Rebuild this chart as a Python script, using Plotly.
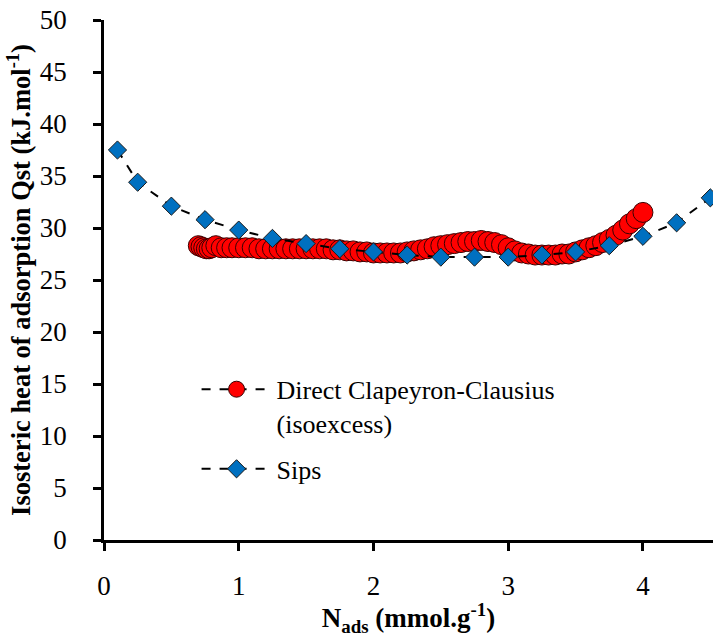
import plotly.graph_objects as go

# Direct Clapeyron-Clausius (isoexcess)
cc_x = [0.70, 0.72, 0.74, 0.76, 0.78, 0.80, 0.83, 0.87, 0.91, 0.95, 1.00, 1.05, 1.10, 1.15, 1.20,
        1.25, 1.30, 1.35, 1.40, 1.45, 1.50, 1.55, 1.60, 1.65, 1.70, 1.75, 1.80, 1.85, 1.90, 1.95,
        2.00, 2.05, 2.10, 2.15, 2.20, 2.25, 2.30, 2.35, 2.40, 2.45, 2.50, 2.55, 2.60, 2.65, 2.70,
        2.75, 2.80, 2.85, 2.90, 2.95, 3.00, 3.05, 3.10, 3.15, 3.20, 3.25, 3.30, 3.35, 3.40, 3.45,
        3.50, 3.55, 3.60, 3.65, 3.70, 3.75, 3.80, 3.85, 3.90, 3.95, 4.00]
cc_y = [28.3, 28.2, 28.1, 28.0, 28.0, 28.1, 28.3, 28.1, 28.1, 28.1, 28.1, 28.1, 28.1, 28.0, 28.0,
        28.0, 28.0, 28.0, 28.0, 28.0, 28.0, 28.0, 28.0, 28.0, 27.9, 27.9, 27.8, 27.8, 27.7, 27.7,
        27.6, 27.6, 27.6, 27.6, 27.6, 27.7, 27.8, 27.9, 28.0, 28.2, 28.3, 28.4, 28.5, 28.6, 28.7,
        28.7, 28.8, 28.7, 28.6, 28.4, 28.1, 27.8, 27.6, 27.5, 27.4, 27.4, 27.4, 27.4, 27.5, 27.5,
        27.7, 27.9, 28.1, 28.3, 28.6, 28.9, 29.3, 29.8, 30.4, 30.9, 31.5]

# Sips
sips_x = [0.1, 0.25, 0.5, 0.75, 1.0, 1.25, 1.5, 1.75, 2.0, 2.25, 2.5, 2.75, 3.0, 3.25, 3.5,
          3.75, 4.0, 4.25, 4.5]
sips_y = [37.5, 34.4, 32.1, 30.8, 29.8, 29.0, 28.5, 28.0, 27.7, 27.4, 27.2, 27.2, 27.2, 27.4, 27.7,
          28.3, 29.2, 30.5, 32.9]

FONT = "Liberation Serif"

fig = go.Figure()
fig.add_trace(go.Scatter(
    x=cc_x, y=cc_y, mode="lines+markers",
    name="Direct Clapeyron-Clausius<br>(isoexcess)",
    legendgroup="cc",
    line=dict(color="black", width=2, dash="dash"),
    marker=dict(symbol="circle", size=20, color="#FF0000", line=dict(color="#3a0000", width=1)),
    cliponaxis=False,
))
fig.add_trace(go.Scatter(
    x=sips_x, y=sips_y, mode="lines+markers",
    name="Sips",
    legendgroup="sips",
    line=dict(color="black", width=2, dash="dash"),
    marker=dict(symbol="diamond", size=14, color="#0070C0", line=dict(color="#1a1a1a", width=1)),
    cliponaxis=False,
))

fig.update_layout(
    width=713, height=637,
    margin=dict(l=104, r=0, t=20, b=97),
    paper_bgcolor="white", plot_bgcolor="white",
    font=dict(family=FONT, size=24, color="black"),
    showlegend=True,
    legend=dict(
        x=0.152, y=0.335, xanchor="left", yanchor="top",
        bgcolor="rgba(0,0,0,0)", font=dict(family=FONT, size=26),
        itemwidth=70, valign="top", tracegroupgap=9,
    ),
    xaxis=dict(
        range=[0, 4.52], dtick=1, tick0=0,
        showline=True, linecolor="black", linewidth=3,
        ticks="outside", ticklen=8, tickwidth=3, tickcolor="black",
        showgrid=False, zeroline=False,
        tickfont=dict(family=FONT, size=27),
        ticklabelstandoff=12,
        title=dict(text="<b>N<sub>ads</sub> (mmol.g<sup>-1</sup>)</b>",
                   font=dict(family=FONT, size=27), standoff=12),
    ),
    yaxis=dict(
        range=[0, 50], dtick=5, tick0=0,
        showline=True, linecolor="black", linewidth=3,
        ticks="outside", ticklen=8, tickwidth=3, tickcolor="black",
        showgrid=False, zeroline=False,
        tickfont=dict(family=FONT, size=27),
        ticksuffix="\u00a0",
        ticklabelstandoff=14,
        title=dict(text="<b>Isosteric heat of adsorption Qst (kJ.mol<sup>-1</sup>)</b>",
                   font=dict(family=FONT, size=26.5), standoff=2),
    ),
)

fig.write_html("out.html")
